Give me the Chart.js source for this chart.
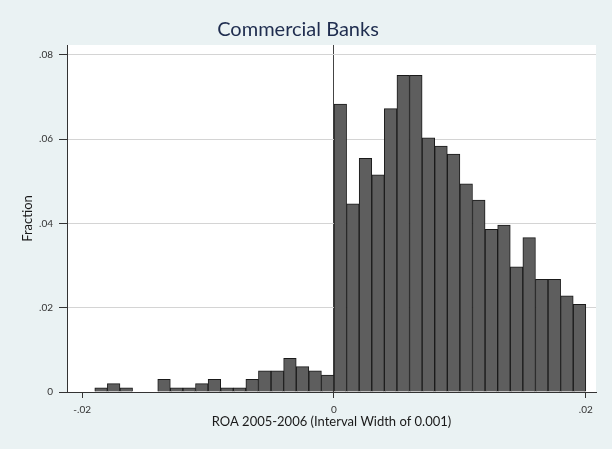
<!DOCTYPE html>
<html>
<head>
<meta charset="utf-8">
<script src="https://cdn.jsdelivr.net/npm/chart.js@4.4.1/dist/chart.umd.min.js"></script>
<style>
  html, body { margin: 0; padding: 0; background: #eaf2f3; }
</style>
</head>
<body>
<canvas id="myChart" width="612" height="449"></canvas>
<script>
// histogram bins (left edge of each interval, width 0.001)
const binStarts = [
    -0.019, -0.018, -0.017, -0.016, -0.015, -0.014, -0.013, -0.012, -0.011, -0.010,
    -0.009, -0.008, -0.007, -0.006, -0.005, -0.004, -0.003, -0.002, -0.001,
    0.000, 0.001, 0.002, 0.003, 0.004, 0.005, 0.006, 0.007, 0.008, 0.009,
    0.010, 0.011, 0.012, 0.013, 0.014, 0.015, 0.016, 0.017, 0.018, 0.019
];
const fractions = [
    0.001, 0.002, 0.001, null, null, 0.003, 0.001, 0.001, 0.002, 0.003,
    0.001, 0.001, 0.003, 0.005, 0.005, 0.008, 0.006, 0.005, 0.004,
    0.0683, 0.0446, 0.0554, 0.0515, 0.0672, 0.0751, 0.0751, 0.0603, 0.0583, 0.0564,
    0.0494, 0.0455, 0.0386, 0.0396, 0.0297, 0.0366, 0.0267, 0.0267, 0.0228, 0.0208
];
const binWidth = 0.001;

const xTicks = [-0.02, 0, 0.02];
const xTickLabels = ['-.02', '0', '.02'];
const yTicks = [0, 0.02, 0.04, 0.06, 0.08];
const yTickLabels = ['0', '.02', '.04', '.06', '.08'];

const fontFamily = 'Lato, "Open Sans", sans-serif';
const axisColor = '#333333';

const points = binStarts.map((b, i) => ({ x: b + binWidth / 2, y: fractions[i] }));

// light blue page, white plot region
const backgroundPlugin = {
    id: 'bg',
    beforeDraw(chart) {
        const ctx = chart.ctx;
        const a = chart.chartArea;
        ctx.save();
        ctx.fillStyle = '#eaf2f3';
        ctx.fillRect(0, 0, chart.width, chart.height);
        ctx.fillStyle = '#ffffff';
        ctx.fillRect(a.left, a.top, a.right - a.left, a.bottom - a.top);
        ctx.restore();
    }
};

new Chart(document.getElementById('myChart'), {
    type: 'bar',
    data: {
        datasets: [{
            label: 'Fraction',
            data: points,
            backgroundColor: '#5e5e5e',
            borderColor: '#1a1a1a',
            borderWidth: 1,
            barPercentage: 1,
            categoryPercentage: 1
        }]
    },
    options: {
        responsive: false,
        animation: false,
        devicePixelRatio: 1,
        layout: { padding: { left: 0, right: 16, top: 0, bottom: 0 } },
        plugins: {
            legend: { display: false },
            tooltip: { enabled: false },
            title: {
                display: true,
                text: 'Commercial Banks',
                color: '#1f2d4f',
                font: { family: fontFamily, size: 20, weight: 'normal', lineHeight: 1.2 },
                padding: { top: 18, bottom: 3 }
            }
        },
        scales: {
            x: {
                type: 'linear',
                offset: false,
                min: -0.021207,
                max: 0.02081,
                afterBuildTicks: (scale) => { scale.ticks = xTicks.map(v => ({ value: v })); },
                afterFit: (scale) => { scale.height = 57; },
                ticks: {
                    callback: (v, i) => xTickLabels[i],
                    color: axisColor,
                    font: { family: fontFamily, size: 10 },
                    padding: 6,
                    maxRotation: 0
                },
                grid: {
                    offset: false,
                    drawOnChartArea: true,
                    color: (c) => (c.tick && c.tick.value === 0) ? '#444444' : 'rgba(0,0,0,0)',
                    tickColor: axisColor,
                    tickLength: 6
                },
                border: { display: true, color: axisColor, width: 1 },
                title: {
                    display: true,
                    text: 'ROA 2005-2006 (Interval Width of 0.001)',
                    color: '#1a1a1a',
                    font: { family: fontFamily, size: 13, lineHeight: 1.2 },
                    padding: { top: 19, bottom: 19 }
                }
            },
            y: {
                min: 0,
                max: 0.0823,
                afterBuildTicks: (scale) => { scale.ticks = yTicks.map(v => ({ value: v })); },
                afterFit: (scale) => { scale.width = 67; },
                ticks: {
                    callback: (v, i) => yTickLabels[i],
                    color: axisColor,
                    font: { family: fontFamily, size: 10 },
                    padding: 6
                },
                grid: {
                    color: (c) => (c.tick && c.tick.value === 0) ? 'rgba(0,0,0,0)' : '#d4d4d4',
                    tickColor: axisColor,
                    tickLength: 8
                },
                border: { display: true, color: axisColor, width: 1 },
                title: {
                    display: true,
                    text: 'Fraction',
                    color: '#1a1a1a',
                    font: { family: fontFamily, size: 13, lineHeight: 1.2 },
                    padding: { top: 20, bottom: 20 }
                }
            }
        }
    },
    plugins: [backgroundPlugin]
});
</script>
</body>
</html>
